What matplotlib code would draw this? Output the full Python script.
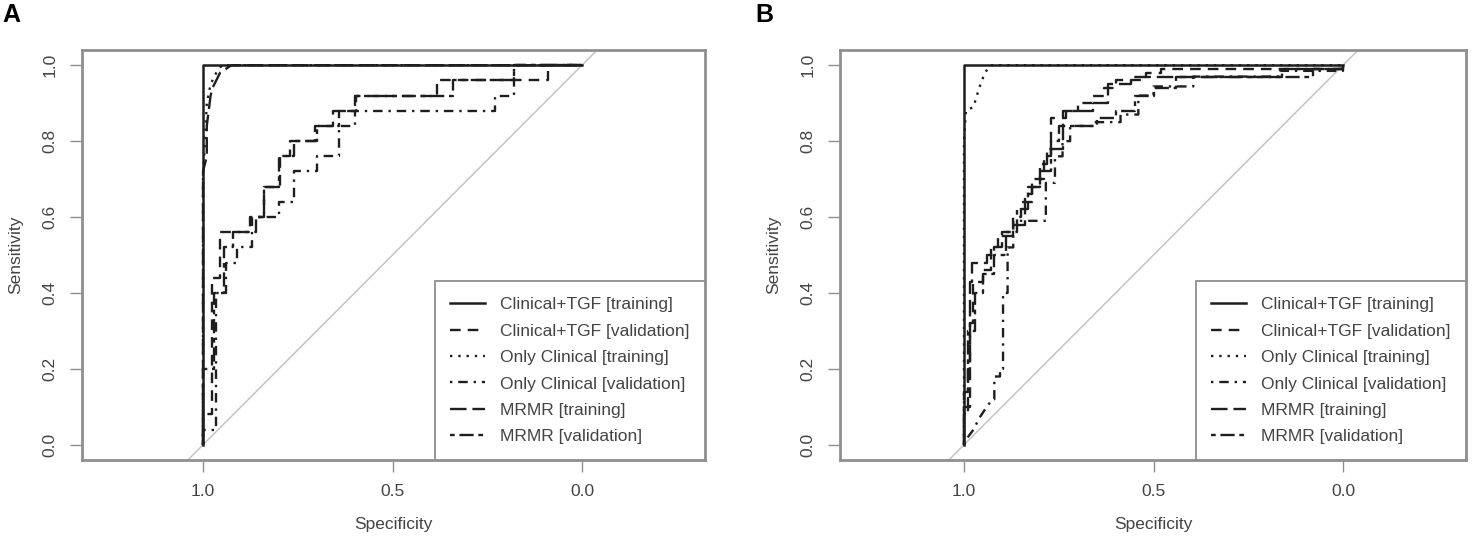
import matplotlib
matplotlib.use("Agg")
import matplotlib.pyplot as plt

plt.rcParams['font.family'] = ['Liberation Sans', 'DejaVu Sans']

legend_labels = ["Clinical+TGF [training]", "Clinical+TGF [validation]",
                 "Only Clinical [training]", "Only Clinical [validation]",
                 "MRMR [training]", "MRMR [validation]"]
x_ticks = [1.0, 0.5, 0.0]
y_ticks = [0.0, 0.2, 0.4, 0.6, 0.8, 1.0]

# ---------------- Panel A (specificity, sensitivity) ----------------
a_ct_train_spec = [1.0, 1.0, 0.0]
a_ct_train_sens = [0.0, 1.0, 1.0]

a_ct_val_spec = [1.0, 1.0, 0.977, 0.977, 0.955, 0.955, 0.876, 0.876, 0.84, 0.84, 0.797, 0.797,
                 0.77, 0.77, 0.704, 0.704, 0.656, 0.656, 0.595, 0.595, 0.383, 0.383, 0.089, 0.089, 0.0]
a_ct_val_sens = [0.0, 0.08, 0.08, 0.44, 0.44, 0.56, 0.56, 0.60, 0.60, 0.68, 0.68, 0.76,
                 0.76, 0.80, 0.80, 0.84, 0.84, 0.88, 0.88, 0.92, 0.92, 0.96, 0.96, 1.0, 1.0]

a_oc_train_spec = [1.0, 1.0, 0.995, 0.99, 0.98, 0.965, 0.95, 0.0]
a_oc_train_sens = [0.0, 0.70, 0.80, 0.90, 0.95, 0.98, 1.0, 1.0]

a_oc_val_spec = [1.0, 1.0, 0.965, 0.965, 0.94, 0.94, 0.91, 0.91, 0.87, 0.87, 0.80, 0.80,
                 0.76, 0.76, 0.70, 0.70, 0.64, 0.64, 0.60, 0.60, 0.23, 0.23, 0.18, 0.18, 0.0]
a_oc_val_sens = [0.0, 0.04, 0.04, 0.40, 0.40, 0.48, 0.48, 0.52, 0.52, 0.60, 0.60, 0.64,
                 0.64, 0.72, 0.72, 0.76, 0.76, 0.84, 0.84, 0.88, 0.88, 0.92, 0.92, 1.0, 1.0]

a_mr_train_spec = [1.0, 1.0, 0.99, 0.99, 0.985, 0.98, 0.975, 0.965, 0.955, 0.94, 0.925, 0.0]
a_mr_train_sens = [0.0, 0.72, 0.76, 0.84, 0.88, 0.92, 0.94, 0.96, 0.98, 0.99, 1.0, 1.0]

a_mr_val_spec = [1.0, 1.0, 0.97, 0.97, 0.945, 0.945, 0.92, 0.92, 0.86, 0.86, 0.84, 0.84,
                 0.80, 0.80, 0.76, 0.76, 0.70, 0.70, 0.64, 0.64, 0.60, 0.60, 0.34, 0.34,
                 0.18, 0.18, 0.0]
a_mr_val_sens = [0.0, 0.20, 0.20, 0.40, 0.40, 0.52, 0.52, 0.56, 0.56, 0.60, 0.60, 0.68,
                 0.68, 0.76, 0.76, 0.80, 0.80, 0.84, 0.84, 0.88, 0.88, 0.92, 0.92, 0.96,
                 0.96, 1.0, 1.0]

# ---------------- Panel B ----------------
b_ct_train_spec = [1.0, 1.0, 0.0]
b_ct_train_sens = [0.0, 1.0, 1.0]

b_ct_val_spec = [1.0, 1.0, 0.985, 0.985, 0.975, 0.975, 0.95, 0.95, 0.93, 0.93, 0.90, 0.90,
                 0.87, 0.87, 0.85, 0.85, 0.82, 0.82, 0.79, 0.79, 0.77, 0.77, 0.73, 0.73,
                 0.70, 0.70, 0.66, 0.66, 0.63, 0.63, 0.60, 0.60, 0.52, 0.52, 0.48, 0.48,
                 0.0, 0.0]
b_ct_val_sens = [0.0, 0.10, 0.10, 0.32, 0.32, 0.43, 0.43, 0.46, 0.46, 0.52, 0.52, 0.56,
                 0.56, 0.60, 0.60, 0.64, 0.64, 0.70, 0.70, 0.76, 0.76, 0.86, 0.86, 0.88,
                 0.88, 0.90, 0.90, 0.92, 0.92, 0.94, 0.94, 0.96, 0.96, 0.98, 0.98, 0.99,
                 0.99, 1.0]

b_oc_train_spec = [1.0, 1.0, 0.995, 0.975, 0.96, 0.945, 0.93, 0.0]
b_oc_train_sens = [0.0, 0.80, 0.88, 0.89, 0.94, 0.98, 1.0, 1.0]

b_oc_val_spec = [1.0, 0.99, 0.975, 0.96, 0.94, 0.925, 0.92, 0.92, 0.905, 0.905, 0.897, 0.897,
                 0.885, 0.885, 0.87, 0.87, 0.784, 0.784, 0.76, 0.76, 0.74, 0.74, 0.72, 0.72,
                 0.657, 0.657, 0.587, 0.587, 0.54, 0.54, 0.50, 0.50, 0.395, 0.395, 0.166,
                 0.166, 0.0, 0.0]
b_oc_val_sens = [0.0, 0.02, 0.04, 0.07, 0.10, 0.12, 0.12, 0.18, 0.18, 0.20, 0.20, 0.40,
                 0.40, 0.52, 0.52, 0.59, 0.59, 0.69, 0.69, 0.76, 0.76, 0.80, 0.80, 0.84,
                 0.84, 0.85, 0.85, 0.87, 0.87, 0.92, 0.92, 0.944, 0.944, 0.97, 0.97,
                 0.985, 0.985, 1.0]

b_mr_train_spec = [1.0, 1.0, 0.99, 0.99, 0.985, 0.985, 0.98, 0.98, 0.94, 0.94, 0.92, 0.92,
                   0.91, 0.91, 0.87, 0.87, 0.84, 0.84, 0.82, 0.82, 0.80, 0.80, 0.78, 0.78,
                   0.74, 0.74, 0.66, 0.66, 0.62, 0.62, 0.56, 0.56, 0.16, 0.16, 0.0, 0.0]
b_mr_train_sens = [0.0, 0.14, 0.14, 0.20, 0.20, 0.43, 0.43, 0.48, 0.48, 0.50, 0.50, 0.52,
                   0.52, 0.55, 0.55, 0.58, 0.58, 0.66, 0.66, 0.68, 0.68, 0.74, 0.74, 0.78,
                   0.78, 0.88, 0.88, 0.90, 0.90, 0.95, 0.95, 0.97, 0.97, 0.99, 0.99, 1.0]

b_mr_val_spec = [1.0, 1.0, 0.99, 0.99, 0.97, 0.97, 0.95, 0.95, 0.92, 0.92, 0.89, 0.89,
                 0.86, 0.86, 0.83, 0.83, 0.80, 0.80, 0.77, 0.77, 0.75, 0.75, 0.65, 0.65,
                 0.60, 0.60, 0.55, 0.55, 0.50, 0.50, 0.44, 0.44, 0.08, 0.08, 0.0, 0.0]
b_mr_val_sens = [0.0, 0.08, 0.08, 0.30, 0.30, 0.40, 0.40, 0.45, 0.45, 0.50, 0.50, 0.56,
                 0.56, 0.62, 0.62, 0.68, 0.68, 0.72, 0.72, 0.80, 0.80, 0.84, 0.84, 0.86,
                 0.86, 0.88, 0.88, 0.92, 0.92, 0.94, 0.94, 0.97, 0.97, 0.99, 0.99, 1.0]

panels = {
    "A": [(a_ct_train_spec, a_ct_train_sens), (a_ct_val_spec, a_ct_val_sens),
          (a_oc_train_spec, a_oc_train_sens), (a_oc_val_spec, a_oc_val_sens),
          (a_mr_train_spec, a_mr_train_sens), (a_mr_val_spec, a_mr_val_sens)],
    "B": [(b_ct_train_spec, b_ct_train_sens), (b_ct_val_spec, b_ct_val_sens),
          (b_oc_train_spec, b_oc_train_sens), (b_oc_val_spec, b_oc_val_sens),
          (b_mr_train_spec, b_mr_train_sens), (b_mr_val_spec, b_mr_val_sens)],
}

line_styles = ['-', (0, (4.5, 3)), (0, (1, 2.5)), (0, (1, 2.5, 4, 2.5)),
               (0, (7, 2.5)), (0, (2, 2, 6, 2))]
curve_color = '#1e1e1e'
frame_color = '#8f8f8f'
text_color = '#444444'
fs = 12.5

W, H = 1477, 543
fig = plt.figure(figsize=(W / 100, H / 100), dpi=100)

layouts = {
    "A": dict(left=82, right=705, x1=203, x0=582, letter_x=11),
    "B": dict(left=840, right=1466, x1=964, x0=1343, letter_x=764),
}
top_px, bot_px = 50, 460

for name, curves in panels.items():
    L = layouts[name]
    wpx = L['right'] - L['left']
    hpx = bot_px - top_px
    ax = fig.add_axes([L['left'] / W, 1 - bot_px / H, wpx / W, hpx / H])
    ppu = L['x0'] - L['x1']
    ax.set_xlim(1 + (L['x1'] - L['left']) / ppu, -(L['right'] - L['x0']) / ppu)
    ax.set_ylim(-0.04, 1.04)

    ax.axline((1, 0), (0, 1), color='#c4c4c4', lw=1.1, zorder=1)

    handles = []
    for (sp, se), ls, lab in zip(curves, line_styles, legend_labels):
        ln, = ax.plot(sp, se, color=curve_color, lw=1.8 if ls == '-' else 1.7,
                      linestyle=ls, zorder=3, label=lab)
        handles.append(ln)

    for s in ax.spines.values():
        s.set_color(frame_color)
        s.set_linewidth(2.0)

    ax.set_xticks(x_ticks)
    ax.set_xticklabels([f"{v:.1f}" for v in x_ticks])
    ax.set_yticks(y_ticks)
    ax.set_yticklabels([f"{v:.1f}" for v in y_ticks], rotation=90, va='center')
    ax.tick_params(axis='both', direction='out', length=8.5, width=1.0,
                   color=frame_color, labelcolor=text_color, labelsize=fs)
    ax.tick_params(axis='x', pad=9)
    ax.tick_params(axis='y', pad=9)

    ax.set_xlabel("Specificity", fontsize=fs, color=text_color)
    ax.set_ylabel("Sensitivity", fontsize=fs, color=text_color)
    ax.xaxis.set_label_coords(0.5, -(517 - bot_px) / hpx)
    ax.yaxis.set_label_coords(-59.0 / wpx, 0.5)

    leg = ax.legend(handles=handles, loc='lower right', bbox_to_anchor=(1, 0),
                    borderaxespad=0, fancybox=False, framealpha=1, fontsize=fs,
                    handlelength=2.0, handletextpad=0.85, labelspacing=0.65,
                    borderpad=0.9, labelcolor=text_color)
    leg.get_frame().set_edgecolor(frame_color)
    leg.get_frame().set_linewidth(1.3)

    fig.text(L['letter_x'] / W, 1 - 15 / H, name, fontsize=18, fontweight='bold',
             ha='center', va='center', color='black')

fig.savefig("out.png", dpi=100)
